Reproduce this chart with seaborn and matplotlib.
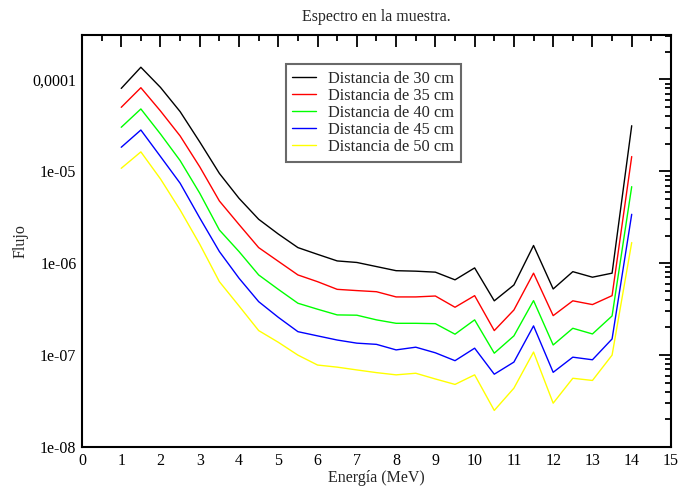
import numpy as np
import pandas as pd
import matplotlib
matplotlib.use("Agg")
import matplotlib.pyplot as plt
import matplotlib.ticker as mticker
import seaborn as sns

energia = [1, 1.5, 2, 2.5, 3, 3.5, 4, 4.5, 5, 5.5, 6, 6.5, 7, 7.5, 8, 8.5,
           9, 9.5, 10, 10.5, 11, 11.5, 12, 12.5, 13, 13.5, 14]

flujo_30 = [8.0e-5, 1.36e-4, 8.2e-5, 4.47e-5, 2.09e-5, 9.5e-6, 5.09e-6, 3.01e-6,
            2.08e-6, 1.48e-6, 1.25e-6, 1.06e-6, 1.02e-6, 9.2e-7, 8.3e-7, 8.2e-7,
            8.0e-7, 6.6e-7, 8.9e-7, 3.9e-7, 5.8e-7, 1.56e-6, 5.25e-7, 8.1e-7,
            7.05e-7, 7.8e-7, 3.14e-5]
flujo_35 = [4.98e-5, 8.14e-5, 4.54e-5, 2.43e-5, 1.12e-5, 4.76e-6, 2.64e-6, 1.48e-6,
            1.05e-6, 7.46e-7, 6.3e-7, 5.2e-7, 5.04e-7, 4.9e-7, 4.3e-7, 4.3e-7,
            4.4e-7, 3.32e-7, 4.44e-7, 1.85e-7, 3.1e-7, 7.8e-7, 2.69e-7, 3.9e-7,
            3.55e-7, 4.44e-7, 1.45e-5]
flujo_40 = [3.02e-5, 4.78e-5, 2.55e-5, 1.31e-5, 5.78e-6, 2.30e-6, 1.34e-6, 7.46e-7,
            5.2e-7, 3.67e-7, 3.16e-7, 2.74e-7, 2.72e-7, 2.42e-7, 2.22e-7, 2.22e-7,
            2.2e-7, 1.69e-7, 2.42e-7, 1.05e-7, 1.62e-7, 3.92e-7, 1.29e-7, 1.96e-7,
            1.70e-7, 2.67e-7, 6.82e-6]
flujo_45 = [1.83e-5, 2.82e-5, 1.45e-5, 7.43e-6, 3.11e-6, 1.34e-6, 6.87e-7, 3.82e-7,
            2.58e-7, 1.80e-7, 1.62e-7, 1.46e-7, 1.35e-7, 1.31e-7, 1.14e-7, 1.22e-7,
            1.06e-7, 8.7e-8, 1.19e-7, 6.2e-8, 8.4e-8, 2.08e-7, 6.5e-8, 9.5e-8,
            8.9e-8, 1.5e-7, 3.41e-6]
flujo_50 = [1.08e-5, 1.63e-5, 8.27e-6, 3.80e-6, 1.61e-6, 6.3e-7, 3.43e-7, 1.85e-7,
            1.38e-7, 1.0e-7, 7.8e-8, 7.4e-8, 6.9e-8, 6.45e-8, 6.1e-8, 6.35e-8,
            5.5e-8, 4.8e-8, 6.1e-8, 2.5e-8, 4.37e-8, 1.08e-7, 3.0e-8, 5.6e-8,
            5.3e-8, 1.0e-7, 1.68e-6]

series_labels = ["Distancia de 30 cm", "Distancia de 35 cm", "Distancia de 40 cm",
                 "Distancia de 45 cm", "Distancia de 50 cm"]
series_colors = ["#000000", "#ff0000", "#00ff00", "#0000ff", "#ffff00"]

ytick_vals = [1e-8, 1e-7, 1e-6, 1e-5, 1e-4]
ytick_labels = ["1e-08", "1e-07", "1e-06", "1e-05", "0,0001"]

frames = []
for lab, vals in zip(series_labels, [flujo_30, flujo_35, flujo_40, flujo_45, flujo_50]):
    frames.append(pd.DataFrame({"Energia": energia, "Flujo": vals, "Serie": lab}))
df = pd.concat(frames, ignore_index=True)

sns.set_style("white")
plt.rcParams["font.family"] = ["Liberation Serif", "DejaVu Serif"]

fs = 11.5
fig = plt.figure(figsize=(6.83, 4.93), dpi=100)
ax = fig.add_axes([0.120, 0.0933, 0.8624, 0.8357])

sns.lineplot(data=df, x="Energia", y="Flujo", hue="Serie", hue_order=series_labels,
             palette=dict(zip(series_labels, series_colors)), linewidth=1.0,
             ax=ax, legend=True, estimator=None, sort=False)

ax.set_yscale("log")
ax.set_xlim(0, 15)
ax.set_ylim(1e-8, 3.05e-4)

ax.xaxis.set_major_locator(mticker.MultipleLocator(1))
ax.xaxis.set_minor_locator(mticker.MultipleLocator(0.5))
ax.yaxis.set_major_locator(mticker.FixedLocator(ytick_vals))
ax.yaxis.set_major_formatter(mticker.FixedFormatter(ytick_labels))
ax.yaxis.set_minor_locator(mticker.LogLocator(base=10, subs=np.arange(2, 10)))
ax.yaxis.set_minor_formatter(mticker.NullFormatter())

ax.tick_params(which="both", direction="in", top=True, right=True, colors="black",
               labelsize=fs, width=1.3)
ax.tick_params(which="major", length=8.5, pad=4)
ax.tick_params(which="minor", length=4.5)
for s in ax.spines.values():
    s.set_linewidth(1.5)
    s.set_color("black")

ax.set_title("Espectro en la muestra.", fontsize=fs, pad=10)
ax.set_xlabel("Energía (MeV)", fontsize=fs, labelpad=1)
ax.set_ylabel("Flujo", fontsize=fs, labelpad=3)

leg = ax.legend(loc="upper left", bbox_to_anchor=(0.346, 0.9296), borderaxespad=0,
                fontsize=11.8, frameon=True, fancybox=False, handlelength=1.45,
                handletextpad=0.75, labelspacing=0.07, borderpad=0.4)
leg.get_frame().set_edgecolor("#444444")
leg.get_frame().set_linewidth(1.5)
for line in leg.get_lines():
    line.set_linewidth(1.0)

fig.savefig("out.png", dpi=100)
